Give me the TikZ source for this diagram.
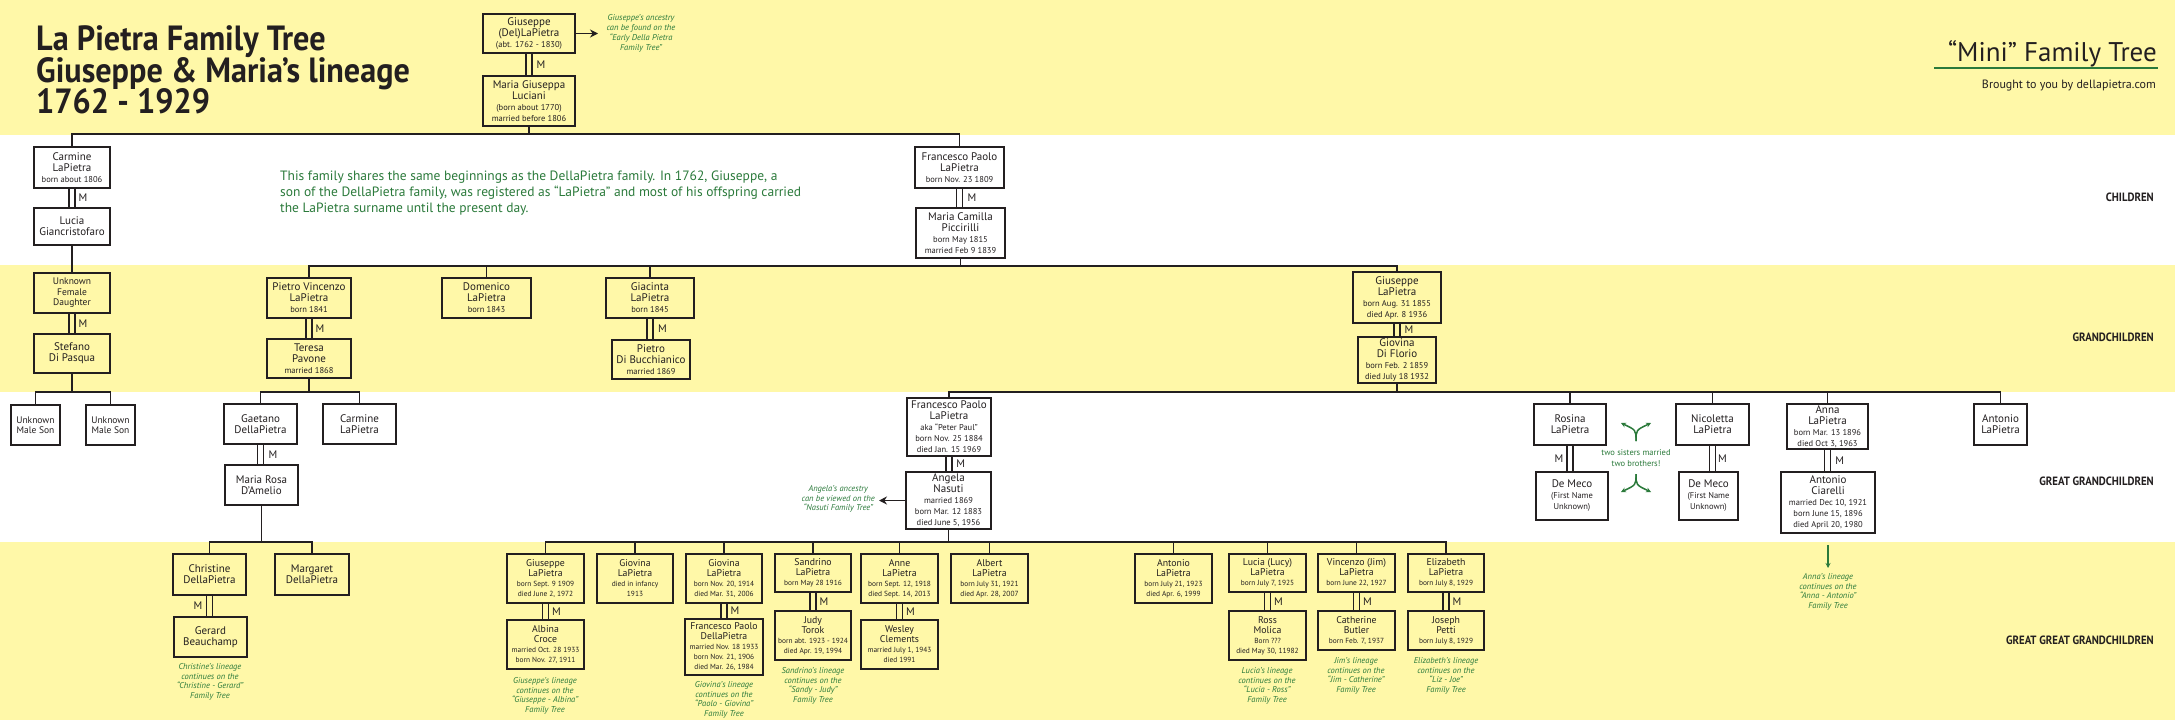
\documentclass[tikz,border=0pt]{standalone}
\usepackage{fontspec}
\setmainfont{PT Sans}
\newfontfamily\condfont{PT Sans}[FakeStretch=0.92]
\newfontfamily\labfont{PT Sans}[FakeStretch=0.9]
\usetikzlibrary{arrows.meta,calc}
\definecolor{bgy}{HTML}{FFF8A8}
\definecolor{ink}{HTML}{231F20}
\definecolor{gtext}{HTML}{2B7A3B}
\newcommand\sm[1]{{\fontsize{8.5}{11}\selectfont #1}}
\newcommand\sx[1]{{\fontsize{7.4}{10}\selectfont #1}}
\newcommand\pb[7][pbox]{\node[#1, minimum width={#5-#3}, minimum height={#6-#4}] (#2) at ({(#3+#5)/2},{(#4+#6)/2}) {#7};}
\newcommand\marr[3]{%
 \draw[mline] ([xshift=-3pt]#1.south) -- ([xshift=-3pt]#1.south |- #2.north);
 \draw[mline] ([xshift=3pt]#1.south) -- ([xshift=3pt]#1.south |- #2.north);
 \node[mlab] at ($(#1.south)!0.5!(#2.north)+(#3,0)$) {M};}
\tikzset{
 pbox/.style={draw=ink, line width=1.8pt, inner sep=1pt, align=center, text=ink, font=\fontsize{11}{11}\selectfont},
 rbox/.style={pbox, font=\fontsize{9.8}{10}\selectfont},
 ubox/.style={pbox, font=\fontsize{9.5}{10.5}\selectfont},
 conn/.style={draw=ink, line width=1.8pt},
 mline/.style={draw=ink, line width=1.4pt},
 mlab/.style={text=ink, font=\fontsize{11}{11}\selectfont, inner sep=0pt},
 gnote/.style={text=gtext, align=center, font=\fontsize{8.5}{9.8}\selectfont\itshape, inner sep=0pt},
 garr/.style={draw=gtext, line width=1.5pt, -{Stealth[length=5pt,width=5pt]}},
 rowlab/.style={anchor=east, text=ink, inner sep=0pt, font=\labfont\bfseries\fontsize{12}{12}\selectfont},
 titl/.style={anchor=base west, text=ink, inner sep=0pt, font=\condfont\bfseries\fontsize{35}{35}\selectfont},
}
\begin{document}
\begin{tikzpicture}[x=1pt,y=-1pt]
\useasboundingbox (0,0) rectangle (2175,720);
\fill[white] (0,0) rectangle (2175,720);
\fill[bgy] (0,0) rectangle (2175,135);
\fill[bgy] (0,265) rectangle (2175,392);
\fill[bgy] (0,542) rectangle (2175,720);

% titles
\node[titl] (t1) at (36,50) {La Pietra Family Tree};
\node[titl] (t2) at (36,82) {Giuseppe \& Maria’s lineage};
\node[titl] (t3) at (36,113) {1762 - 1929};
\node[anchor=base east, text=ink, inner sep=0pt, font=\fontsize{27}{27}\selectfont] (mini) at (2157,61) {“Mini” Family Tree};
\coordinate (ul1) at (1934,68); \coordinate (ul2) at (2158,68);
\draw[gtext, line width=2.5pt] (ul1) -- (ul2);
\node[anchor=base east, text=ink, inner sep=0pt, font=\fontsize{12}{12}\selectfont] (brought) at (2156,88) {Brought to you by dellapietra.com};

% paragraph
\begin{scope}[every node/.style={anchor=base west, text=gtext, inner sep=0pt, font=\fontsize{13.5}{16}\selectfont}]
\node (p1) at (280,180) {This family shares the same beginnings as the DellaPietra family. In 1762, Giuseppe, a};
\node (p2) at (280,196) {son of the DellaPietra family, was registered as “LaPietra” and most of his offspring carried};
\node (p3) at (280,212) {the LaPietra surname until the present day.};
\end{scope}

% row labels
\node[rowlab] (lc) at (2154,197) {CHILDREN};
\node[rowlab] (lg) at (2154,337) {GRANDCHILDREN};
\node[rowlab] (lgg) at (2154,481) {GREAT GRANDCHILDREN};
\node[rowlab] (lggg) at (2154,640) {GREAT GREAT GRANDCHILDREN};

% top
\pb{gdl}{483}{14}{575}{53}{Giuseppe\\(Del)LaPietra\\\sm{(abt. 1762 - 1830)}}
\pb{mgl}{483}{76}{575}{126}{Maria Giuseppa\\Luciani\\\sm{(born about 1770)}\\\sm{married before 1806}}
\marr{gdl}{mgl}{12}
\node[gnote] (ancnote) at (641,33.5) {Giuseppe’s ancestry\\can be found on the\\“Early Della Pietra\\Family Tree”};
\coordinate (ancarr) at (598,33.5);
\draw[conn, -{Stealth[length=8pt,width=8pt]}] (gdl.east) -- (ancarr);

% row 1
\pb{carm1}{34}{147}{110}{188}{Carmine\\LaPietra\\\sm{born about 1806}}
\pb{lucia}{34}{208}{110}{245}{Lucia\\Giancristofaro}
\marr{carm1}{lucia}{11}
\pb{fp1}{915}{147}{1004}{188}{Francesco Paolo\\LaPietra\\\sm{born Nov. 23 1809}}
\pb{mc}{916}{208}{1005}{258}{Maria Camilla\\Piccirilli\\\sm{born May 1815}\\\sm{married Feb 9 1839}}
\marr{fp1}{mc}{12}
\coordinate (bus1) at (0,134);
\draw[conn] (mgl.south) -- (mgl.south |- bus1);
\draw[conn] (carm1.north) |- (fp1.north |- bus1) -- (fp1.north);

% row 2
\pb[ubox]{ufd}{34}{273}{110}{313}{Unknown\\Female\\Daughter}
\pb{stef}{34}{334}{110}{373}{Stefano\\Di Pasqua}
\marr{ufd}{stef}{11}
\draw[conn] (lucia.south) -- (ufd.north);
\pb{pv}{267}{278}{351}{318}{Pietro Vincenzo\\LaPietra\\\sm{born 1841}}
\pb{ter}{267}{339}{351}{378}{Teresa\\Pavone\\\sm{married 1868}}
\marr{pv}{ter}{11}
\pb{dom}{442}{278}{531}{318}{Domenico\\LaPietra\\\sm{born 1843}}
\pb{giac}{606}{278}{694}{318}{Giacinta\\LaPietra\\\sm{born 1845}}
\pb{pdb}{612}{340}{690}{379}{Pietro\\Di Bucchianico\\\sm{married 1869}}
\marr{giac}{pdb}{12}
\pb{gius2}{1353}{272}{1441}{323}{Giuseppe\\LaPietra\\\sm{born Aug. 31 1855}\\\sm{died Apr. 8 1936}}
\pb{giov2}{1358}{337}{1436}{383}{Giovina\\Di Florio\\\sm{born Feb. 2 1859}\\\sm{died July 18 1932}}
\marr{gius2}{giov2}{12}
\coordinate (bus2) at (0,266);
\draw[conn] (mc.south) -- (mc.south |- bus2);
\draw[conn] (pv.north) |- (gius2.north |- bus2) -- (gius2.north);
\draw[conn] (dom.north) -- (dom.north |- bus2);
\draw[conn] (giac.north) -- (giac.north |- bus2);

% row 3
\pb[ubox]{ums1}{11}{405}{60}{445}{Unknown\\Male Son}
\pb[ubox]{ums2}{86}{405}{135}{445}{Unknown\\Male Son}
\pb{gae}{224}{404}{297}{444}{Gaetano\\DellaPietra}
\pb{carm3}{323}{404}{396}{444}{Carmine\\LaPietra}
\pb{mr}{225}{465}{298}{505}{Maria Rosa\\D’Amelio}
\marr{gae}{mr}{12}
\pb{fp3}{907}{398}{991}{456}{Francesco Paolo\\LaPietra\\\sm{aka “Peter Paul”}\\\sm{born Nov. 25 1884}\\\sm{died Jan. 15 1969}}
\pb{ang}{906}{472}{991}{529}{Angela\\Nasuti\\\sm{married 1869}\\\sm{born Mar. 12 1883}\\\sm{died June 5, 1956}}
\marr{fp3}{ang}{12}
\node[gnote, anchor=east] (angnote) at (875,499) {Angela’s ancestry\\can be viewed on the\\“Nasuti Family Tree”};
\coordinate (angarr) at (879,500.5);
\draw[conn, -{Stealth[length=8pt,width=8pt]}] (ang.west) -- (angarr);
\pb{ros}{1534}{404}{1606}{445}{Rosina\\LaPietra}
\pb{dm1}{1536}{472}{1608}{520}{De Meco\\\sm{(First Name}\\\sm{Unknown)}}
\marr{ros}{dm1}{-12}
\pb{nic}{1676}{404}{1749}{445}{Nicoletta\\LaPietra}
\pb{dm2}{1679}{472}{1738}{520}{De Meco\\\sm{(First Name}\\\sm{Unknown)}}
\marr{nic}{dm2}{12}
\node[text=gtext, align=center, inner sep=0pt, font=\fontsize{8.5}{11}\selectfont] (sisters) at (1636,458) {two sisters married\\two brothers!};
\coordinate (fu) at (1636,441); \coordinate (ful) at (1621,423); \coordinate (fur) at (1651,423);
\coordinate (fd) at (1636,474); \coordinate (fdl) at (1621,492); \coordinate (fdr) at (1651,492);
\draw[garr] (fu) .. controls (1636,430) .. (ful);
\draw[garr] (fu) .. controls (1636,430) .. (fur);
\draw[garr] (fd) .. controls (1636,485) .. (fdl);
\draw[garr] (fd) .. controls (1636,485) .. (fdr);
\pb{anna}{1787}{404}{1868}{449}{Anna\\LaPietra\\\sm{born Mar. 13 1896}\\\sm{died Oct 3, 1963}}
\pb{aci}{1781}{472}{1875}{533}{Antonio\\Ciarelli\\\sm{married Dec 10, 1921}\\\sm{born June 15, 1896}\\\sm{died April 20, 1980}}
\marr{anna}{aci}{12}
\pb{antlp}{1974}{404}{2027}{445}{Antonio\\LaPietra}
\node[gnote, anchor=north] (annanote) at (1828,573) {Anna’s lineage\\continues on the\\“Anna - Antonio”\\Family Tree};
\draw[draw=gtext, line width=1.3pt, -{Stealth[length=5pt,width=5pt]}] ([yshift=-11pt]aci.south) -- ([yshift=5pt]annanote.north);
\coordinate (bus3) at (0,392);
\draw[conn] (stef.south) -- (stef.south |- bus3);
\draw[conn] (ums1.north) |- (ums2.north |- bus3) -- (ums2.north);
\draw[conn] (ter.south) -- (ter.south |- bus3);
\draw[conn] (gae.north) |- (carm3.north |- bus3) -- (carm3.north);
\draw[conn] (giov2.south) -- (giov2.south |- bus3);
\draw[conn] (fp3.north) |- (antlp.north |- bus3) -- (antlp.north);
\draw[conn] (ros.north) -- (ros.north |- bus3);
\draw[conn] (nic.north) -- (nic.north |- bus3);
\draw[conn] (anna.north) -- (anna.north |- bus3);

% row 4
\pb{chr}{173}{554}{246}{595}{Christine\\DellaPietra}
\pb{mar}{275}{554}{349}{595}{Margaret\\DellaPietra}
\pb{ger}{174}{617}{247}{657}{Gerard\\Beauchamp}
\marr{chr}{ger}{-12}
\node[gnote, anchor=north] (n_chr) at (210,663) {Christine’s lineage\\continues on the\\“Christine - Gerard”\\Family Tree};

\pb[rbox]{g4}{507}{554}{584}{603}{Giuseppe\\LaPietra\\\sx{born Sept. 9 1909}\\\sx{died June 2, 1972}}
\pb[rbox]{albc}{507}{620}{584}{669}{Albina\\Croce\\\sx{married Oct. 28 1933}\\\sx{born Nov. 27, 1911}}
\marr{g4}{albc}{11}
\node[gnote, anchor=north] (n_g4) at (545,677) {Giuseppe’s lineage\\continues on the\\“Giuseppe - Albina”\\Family Tree};
\pb[rbox]{gi4}{597}{554}{673}{603}{Giovina\\LaPietra\\\sx{died in infancy}\\\sx{1913}}
\pb[rbox]{glp}{686}{554}{762}{603}{Giovina\\LaPietra\\\sx{born Nov. 20, 1914}\\\sx{died Mar. 31, 2006}}
\pb[rbox]{fpd}{685}{619}{763}{675}{Francesco Paolo\\DellaPietra\\\sx{married Nov. 18 1933}\\\sx{born Nov. 21, 1906}\\\sx{died Mar. 26, 1984}}
\marr{glp}{fpd}{11}
\node[gnote, anchor=north] (n_glp) at (724,681) {Giovina’s lineage\\continues on the\\“Paolo - Giovina”\\Family Tree};
\pb[rbox]{san}{775}{554}{851}{592}{Sandrino\\LaPietra\\\sx{born May 28 1916}}
\pb[rbox]{judy}{775}{611}{851}{660}{Judy\\Torok\\\sx{born abt. 1923 - 1924}\\\sx{died Apr. 19, 1994}}
\marr{san}{judy}{11}
\node[gnote, anchor=north] (n_san) at (813,667) {Sandrino’s lineage\\continues on the\\“Sandy - Judy”\\Family Tree};
\pb[rbox]{ann}{861}{554}{938}{603}{Anne\\LaPietra\\\sx{born Sept. 12, 1918}\\\sx{died Sept. 14, 2013}}
\pb[rbox]{wes}{861}{620}{938}{669}{Wesley\\Clements\\\sx{married July 1, 1943}\\\sx{died 1991}}
\marr{ann}{wes}{11}
\pb[rbox]{alb}{951}{554}{1028}{603}{Albert\\LaPietra\\\sx{born July 31, 1921}\\\sx{died Apr. 28, 2007}}
\pb[rbox]{ant4}{1135}{554}{1212}{603}{Antonio\\LaPietra\\\sx{born July 21, 1923}\\\sx{died Apr. 6, 1999}}
\pb[rbox]{luc}{1229}{554}{1306}{592}{Lucia (Lucy)\\LaPietra\\\sx{born July 7, 1925}}
\pb[rbox]{ross}{1229}{611}{1306}{660}{Ross\\Molica\\\sx{Born ???}\\\sx{died May 30, 11982}}
\marr{luc}{ross}{11}
\node[gnote, anchor=north] (n_luc) at (1267,667) {Lucia’s lineage\\continues on the\\“Lucia - Ross”\\Family Tree};
\pb[rbox]{vin}{1318}{554}{1395}{592}{Vincenzo (Jim)\\LaPietra\\\sx{born June 22, 1927}}
\pb[rbox]{cat}{1318}{611}{1395}{650}{Catherine\\Butler\\\sx{born Feb. 7, 1937}}
\marr{vin}{cat}{11}
\node[gnote, anchor=north] (n_vin) at (1356,657) {Jim’s lineage\\continues on the\\“Jim - Catherine”\\Family Tree};
\pb[rbox]{eli}{1408}{554}{1484}{592}{Elizabeth\\LaPietra\\\sx{born July 8, 1929}}
\pb[rbox]{jos}{1408}{611}{1484}{650}{Joseph\\Petti\\\sx{born July 8, 1929}}
\marr{eli}{jos}{11}
\node[gnote, anchor=north] (n_eli) at (1446,657) {Elizabeth’s lineage\\continues on the\\“Liz - Joe”\\Family Tree};

\coordinate (bus4) at (0,542);
\draw[conn] (mr.south) -- (mr.south |- bus4);
\draw[conn] (chr.north) |- (mar.north |- bus4) -- (mar.north);
\draw[conn] (ang.south) -- (ang.south |- bus4);
\draw[conn] (g4.north) |- (eli.north |- bus4) -- (eli.north);
\foreach \n in {gi4,glp,san,ann,alb,ant4,luc,vin}
  \draw[conn] (\n.north) -- (\n.north |- bus4);
\end{tikzpicture}
\end{document}
